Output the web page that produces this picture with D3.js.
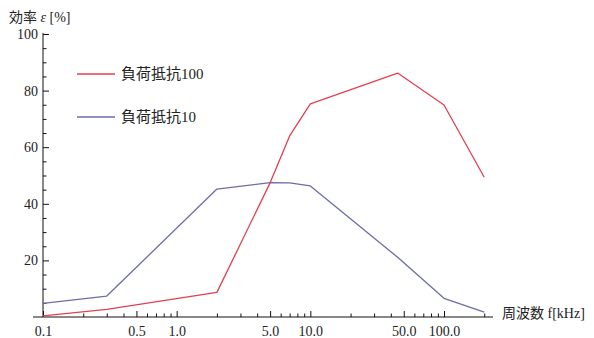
<!DOCTYPE html>
<html>
<head>
<meta charset="utf-8">
<script src="https://cdn.jsdelivr.net/npm/d3@7"></script>
<style>
  html, body { margin: 0; padding: 0; background: #fff; }
  svg { display: block; }
  text { font-family: "Liberation Serif", "Noto Sans CJK JP", serif; fill: #222; }
</style>
</head>
<body>
<svg id="chart" width="594" height="338"></svg>
<script>
// Measured efficiency versus frequency for two load resistances
const freq = [0.1, 0.3, 2, 5, 7, 10, 45, 100, 200];          // kHz
const eff100 = [0.4, 2.7, 8.7, 47.4, 64, 75.3, 86.2, 74.9, 49.4]; // %  load 100
const eff10 = [4.8, 7.4, 45.2, 47.5, 47.4, 46.3, 21.1, 6.6, 1.7]; // %  load 10

const seriesNames = ["負荷抵抗100", "負荷抵抗10"];
const seriesColors = ["#e2404f", "#6d6ca8"];

const xMajor = [0.1, 0.5, 1, 5, 10, 50, 100];
const xMinor = [0.2, 0.3, 0.4, 0.6, 0.7, 0.8, 0.9, 2, 3, 4, 6, 7, 8, 9,
                20, 30, 40, 60, 70, 80, 90, 200];
const yMajor = [20, 40, 60, 80, 100];
const yMinor = [5, 10, 15, 25, 30, 35, 45, 50, 55, 65, 70, 75, 85, 90, 95];

const svg = d3.select("#chart");

const x = d3.scaleLog().domain([0.1, 100]).range([43, 444]);
const y = d3.scaleLinear().domain([0, 100]).range([317, 34]);

// axis lines
svg.append("line")
  .attr("x1", x(0.1) - 10).attr("x2", x.range()[1] + 49)
  .attr("y1", y(0)).attr("y2", y(0))
  .attr("stroke", "#111").attr("stroke-width", 1);
svg.append("line")
  .attr("x1", x(0.1)).attr("x2", x(0.1))
  .attr("y1", y(0)).attr("y2", y(100) - 1)
  .attr("stroke", "#111").attr("stroke-width", 1);

// x axis: major ticks with labels, minor ticks without
const gx = svg.append("g").attr("transform", `translate(0,${y(0)})`);
gx.call(d3.axisBottom(x).tickValues(xMajor).tickFormat(d3.format(".1f"))
  .tickSize(-6).tickSizeOuter(0).tickPadding(9));
const gxm = svg.append("g").attr("transform", `translate(0,${y(0)})`);
gxm.call(d3.axisBottom(x).tickValues(xMinor).tickFormat("")
  .tickSize(-3.5).tickSizeOuter(0));

// y axis
const gy = svg.append("g").attr("transform", `translate(${x(0.1)},0)`);
gy.call(d3.axisLeft(y).tickValues(yMajor).tickFormat(d3.format("d"))
  .tickSize(-6).tickSizeOuter(0).tickPadding(5));
const gym = svg.append("g").attr("transform", `translate(${x(0.1)},0)`);
gym.call(d3.axisLeft(y).tickValues(yMinor).tickFormat("")
  .tickSize(-3.5).tickSizeOuter(0));

svg.selectAll(".domain").remove();
svg.selectAll(".tick line").attr("stroke", "#111");
svg.selectAll(".tick text")
  .attr("font-size", 14)
  .attr("font-family", "Liberation Serif, serif")
  .attr("fill", "#222");

// x tick "0.1" sits on the origin
gx.selectAll(".tick text").attr("dx", 0);

// data lines
const line = d3.line()
  .x((d, i) => x(freq[i]))
  .y(d => y(d));

[eff100, eff10].forEach((vals, k) => {
  svg.append("path")
    .datum(vals)
    .attr("d", line)
    .attr("fill", "none")
    .attr("stroke", seriesColors[k])
    .attr("stroke-width", 1.3)
    .attr("stroke-linejoin", "round");
});

// legend
const legendY = [74, 117];
seriesNames.forEach((name, k) => {
  svg.append("line")
    .attr("x1", 77).attr("x2", 115)
    .attr("y1", legendY[k]).attr("y2", legendY[k])
    .attr("stroke", seriesColors[k]).attr("stroke-width", 1.5);
  svg.append("text")
    .attr("x", 121).attr("y", legendY[k])
    .attr("dy", "0.36em")
    .attr("font-size", 15)
    .text(name);
});

// axis titles
const yTitle = svg.append("text").attr("x", 9).attr("y", 22).attr("font-size", 14);
yTitle.append("tspan").text("効率 ");
yTitle.append("tspan").attr("font-style", "italic").text("ε");
yTitle.append("tspan").text(" [%]");

svg.append("text")
  .attr("x", 502).attr("y", 318)
  .attr("font-size", 14)
  .text("周波数 f[kHz]");
</script>
</body>
</html>
